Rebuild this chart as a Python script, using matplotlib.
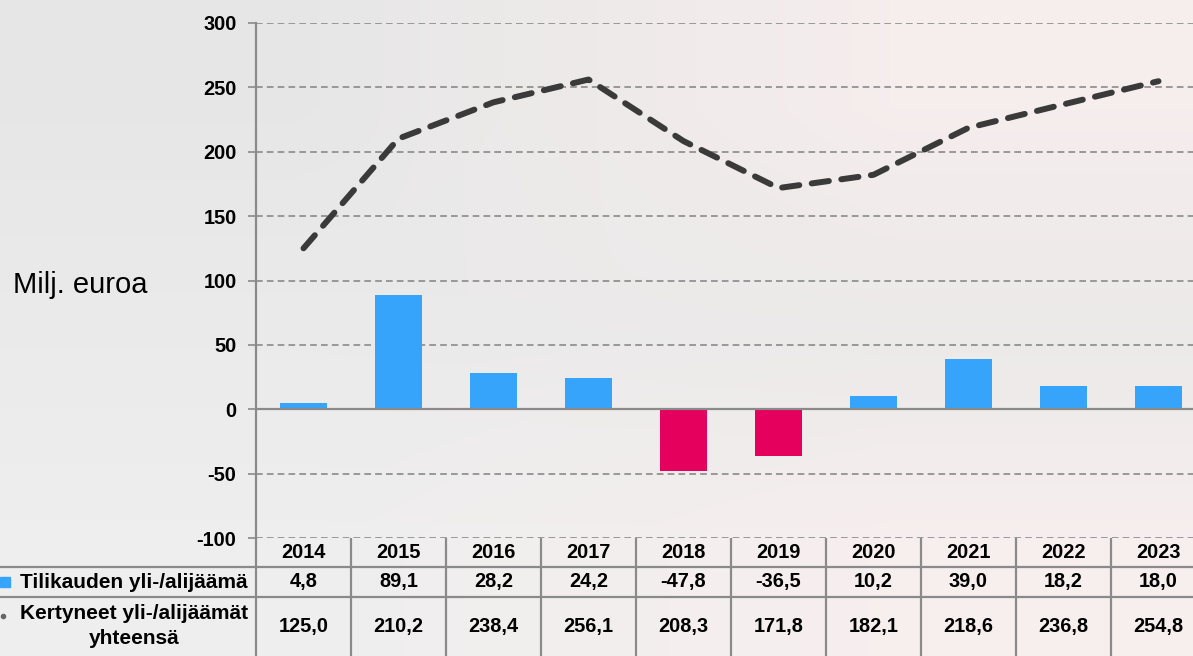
#Yli-/alijäämä chart with data table
import numpy as np
import matplotlib.pyplot as plt

#Data
years = ['2014', '2015', '2016', '2017', '2018', '2019', '2020', '2021', '2022', '2023']
annual = [4.8, 89.1, 28.2, 24.2, -47.8, -36.5, 10.2, 39.0, 18.2, 18.0]
cumulative = [125.0, 210.2, 238.4, 256.1, 208.3, 171.8, 182.1, 218.6, 236.8, 254.8]
annual_label = 'Tilikauden yli-/alijäämä'
cumulative_label = 'Kertyneet yli-/alijäämät\nyhteensä'
y_label = 'Milj. euroa'
y_ticks = [-100, -50, 0, 50, 100, 150, 200, 250, 300]

plt.rcParams['font.family'] = ['Liberation Sans', 'DejaVu Sans']
plt.rcParams['axes.unicode_minus'] = False

W, H = 1193, 656
fig = plt.figure(figsize=(W / 100, H / 100), dpi=100)

#Faded background
bg = fig.add_axes([0, 0, 1, 1], zorder=-10)
grad = np.array([[[0.905, 0.905, 0.905], [0.965, 0.93, 0.93]],
                 [[0.92, 0.92, 0.92], [0.925, 0.915, 0.915]],
                 [[0.935, 0.935, 0.935], [0.97, 0.935, 0.935]]])
bg.imshow(grad, aspect='auto', interpolation='bilinear', extent=[0, 1, 0, 1])
bg.axis('off')

#Layout in pixels
x0, col = 256, 95
top, bottom = 23, 538
grey = '#8a8a8a'

ax = fig.add_axes([x0 / W, (H - bottom) / H, 10 * col / W, (bottom - top) / H])
ax.patch.set_alpha(0)
x = np.arange(len(years))
colors = ['#35a4fa' if v >= 0 else '#e6005d' for v in annual]
ax.bar(x, annual, width=0.5, color=colors, zorder=3)
ax.plot(x, cumulative, color='#3a3a3a', lw=4.3, ls=(0, (2.9, 2.1)),
        dash_capstyle='round', solid_capstyle='round', zorder=4)
ax.set_xlim(-0.5, len(years) - 0.5)
ax.set_ylim(-100, 300)
ax.set_yticks(y_ticks)
ax.yaxis.grid(True, color=grey, ls=(0, (4, 2.5)), lw=1.2)
ax.set_axisbelow(True)
ax.axhline(0, color=grey, lw=1.6, zorder=3.5)
for s in ['top', 'right', 'bottom']:
    ax.spines[s].set_visible(False)
ax.spines['left'].set_color(grey)
ax.spines['left'].set_linewidth(1.6)
ax.set_xticks([])
ax.tick_params(axis='y', length=6, color=grey, width=1.2, labelsize=14.4, pad=8)
for lab in ax.get_yticklabels():
    lab.set_fontweight('bold')

fig.text(13 / W, 1 - 285 / H, y_label, fontsize=21, ha='left', va='center')

#Data table
th = H - bottom
tab = fig.add_axes([0, 0, (x0 + 10 * col) / W, th / H])
tab.patch.set_alpha(0)
xmin = -0.5 - x0 / col
tab.set_xlim(xmin, len(years) - 0.5)
tab.set_ylim(0, th)
tab.axis('off')

tab.plot([xmin, len(years) - 0.5], [89, 89], color=grey, lw=1.6)
tab.plot([xmin, len(years) - 0.5], [59, 59], color=grey, lw=1.6)
for k in range(len(years) + 1):
    tab.plot([k - 0.5, k - 0.5], [0, th], color=grey, lw=1.6)

def fmt(v):
    return f'{v:.1f}'.replace('.', ',')

for i, yr in enumerate(years):
    tab.text(i, 103.5, yr, ha='center', va='center', fontsize=14.4, fontweight='bold')
    tab.text(i, 74, fmt(annual[i]), ha='center', va='center', fontsize=14.4, fontweight='bold')
    tab.text(i, 29.5, fmt(cumulative[i]), ha='center', va='center', fontsize=14.4, fontweight='bold')

lab_x = -0.5 - 8 / col
tab.text(lab_x, 74, annual_label, ha='right', va='center', fontsize=15, fontweight='bold')
tab.text(lab_x, 30, cumulative_label, ha='right', va='center', multialignment='center',
         fontsize=15, fontweight='bold', linespacing=1.45)
tab.plot([xmin + 5 / col], [74], marker='s', ms=7.5, color='#35a4fa', clip_on=False)
tab.plot([xmin + 3 / col], [40], marker='o', ms=3, color='#666666', clip_on=False)

fig.savefig('out.png', dpi=100)
